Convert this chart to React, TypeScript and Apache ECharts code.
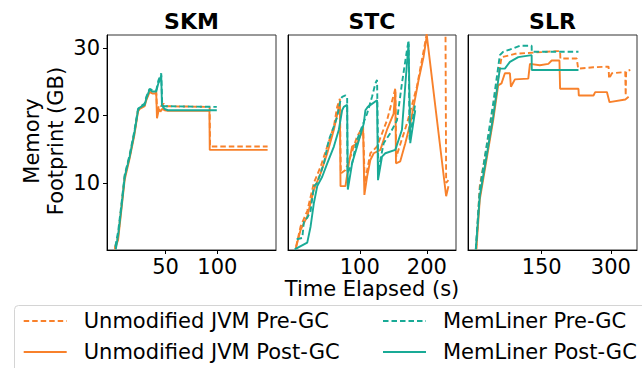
import React, { useEffect, useRef } from "react";
import * as echarts from "echarts";

// ---------- data ----------
const panelTitles = ["SKM", "STC", "SLR"];
const seriesNames = [
  "Unmodified JVM Pre-GC",
  "Unmodified JVM Post-GC",
  "MemLiner Pre-GC",
  "MemLiner Post-GC",
];
const xTickLabels = [
  [50, 100],
  [100, 200],
  [150, 300],
];
const yTickLabels = [10, 20, 30];

// SKM
const skmUnmodPre = [[1.0,0.3],[4.2,2.0],[7.4,6.5],[10.6,11.0],[15.4,14.0],[20,17.5],[23.4,20.8],[25,21.2],[29.8,21.6],[31.4,22.5],[34.6,23.8],[37.2,23.6],[41,23.6],[41.9,20.3],[43.6,21.6],[46,21.4],[48,21.8],[50,21.4],[92.5,21.3],[92.9,15.4],[148.4,15.4]];
const skmUnmodPost = [[1.0,0.1],[4.2,1.5],[7.4,6.0],[10.6,10.5],[15.4,13.7],[20,17.2],[23.4,20.6],[25,21.0],[29.8,21.4],[31.4,22.3],[34.6,23.5],[37.2,23.3],[41,23.3],[41.7,19.6],[43.6,21.0],[45,20.6],[46.8,21.0],[49,20.8],[52.2,20.7],[92.3,20.7],[92.6,14.9],[148.4,14.9]];
const skmMemPre = [[1.5,0.5],[4.3,2.8],[7.4,6.8],[10.6,11.2],[15.4,14.2],[20,17.8],[23.4,21.0],[25,21.3],[29.8,21.8],[31.4,22.8],[34.6,24.0],[37.2,23.8],[41,23.8],[43,25.2],[45.8,26.3],[46.8,21.5],[49,21.4],[99.4,21.3]];
const skmMemPost = [[2.0,0.1],[4.5,2.5],[7.5,6.5],[10.6,10.9],[15.4,13.9],[20,17.5],[23.4,20.8],[25,21.2],[29.8,21.6],[31.4,22.5],[34.6,23.9],[37.2,23.6],[41,23.6],[43,24.8],[44.5,25.3],[45.8,26.0],[46.5,21.5],[49,21.0],[52.2,20.8],[99.4,20.8]];

// STC
const stcUnmodPre = [[5,0.5],[11.8,3.5],[21.7,5.8],[31.6,10.0],[41.6,12.4],[51.5,15.4],[61.4,18.4],[66.3,21.3],[70.3,22.5],[71.8,11.4],[78.7,11.9],[86.1,13.9],[96.0,16.9],[105,18.4],[107.4,10.0],[115.8,14.4],[125.8,15.4],[140.6,19.3],[153.0,24.0],[154.5,13.9],[170.3,18.8],[185.2,24.3],[200.0,32.2],[215,33.5],[227.8,34],[228.8,10.0],[232.2,10.4]];
const stcUnmodPost = [[4.5,0.2],[11.8,3.0],[21.7,5.0],[31.6,9.0],[41.6,11.4],[51.5,14.4],[61.4,17.9],[68.8,21.3],[70.3,22.0],[71.3,9.5],[78.7,9.5],[83.7,12.9],[88.6,15.4],[96.0,15.9],[105,17.9],[106.9,8.2],[110.9,10.9],[115.8,13.4],[120.8,14.4],[130.7,14.9],[140.6,17.9],[150.5,20.3],[153.0,23.8],[154.0,12.9],[160.4,13.2],[167.9,15.9],[175.3,18.8],[180.2,21.3],[187.7,25.3],[195.1,28.7],[200.0,31.9],[228.8,8.0],[232.2,9.5]];
const stcMemPre = [[5.9,1.6],[14.3,1.8],[16.8,4.3],[21.7,4.8],[26.7,5.8],[31.6,9.5],[36.6,10.0],[46.5,12.9],[53.9,16.4],[61.4,18.4],[66.3,19.8],[71.3,22.3],[73.7,22.8],[78.7,23.0],[81.2,22.8],[81.7,11.4],[88.6,12.9],[96.0,16.4],[103.5,18.4],[110.9,20.3],[118.3,22.8],[123.3,24.8],[125.8,25.3],[127.7,11.9],[135.7,15.9],[145.6,17.4],[155.5,19.3],[162.9,24.8],[170.3,29.7],[172.8,31.2],[174.3,16.4],[182.7,21.8]];
const stcMemPost = [[2.9,0.1],[21.7,1.1],[26.7,3.5],[31.6,7.0],[36.6,9.5],[44.0,10.9],[51.5,12.9],[61.4,15.4],[68.8,17.9],[73.7,20.8],[76.2,21.3],[81.2,21.6],[82.2,9.0],[88.6,12.9],[96.0,15.4],[105.9,18.8],[108.4,20.8],[112,21.3],[125.8,22.3],[127.2,10.4],[133.2,13.9],[138.1,14.4],[153.0,14.9],[162.9,17.9],[170.3,27.7],[172.8,30.7],[175.3,15.9],[182.7,20.8]];

// SLR
const slrUnmodPre = [[8,0.1],[15.9,9.5],[44.9,20.8],[63,28.7],[81.2,29.0],[92,29.2],[182.6,29.6],[189.9,29.6],[190.5,28.5],[226,28.5],[229,27.0],[262,27.2],[294.9,27.3],[296,25.5],[302.2,26.3],[331,26.5],[332,23.0],[333,26.6],[342,26.8]];
const slrUnmodPost = [[8.5,0.1],[15.9,7.5],[44.9,19.3],[55.8,24.5],[63,24.8],[70.3,26.3],[81.2,26.3],[83.4,24.3],[92,25.4],[121,25.5],[124.6,27.7],[146,27.5],[164.5,27.7],[171.7,28.2],[188.5,28.2],[189.9,24.0],[229.7,24.0],[230.4,23.0],[262.3,23.0],[265.9,23.5],[291.3,23.5],[297,22.0],[331.2,22.4],[338.4,22.8]];
const slrMemPre = [[7.3,0.1],[15.9,9.0],[44.9,21.8],[59.4,29.0],[66.7,29.5],[88.4,30.0],[102.9,30.4],[128.3,30.4],[128.5,29.5],[229.7,29.5]];
const slrMemPost = [[7.3,0.1],[15.9,8.0],[44.9,19.8],[59.4,27.0],[70.3,27.0],[81.2,28.0],[99.3,28.7],[128.3,29.0],[128.5,26.8],[229.7,26.8]];

const panelData = [
  [skmUnmodPre, skmUnmodPost, skmMemPre, skmMemPost],
  [stcUnmodPre, stcUnmodPost, stcMemPre, stcMemPost],
  [slrUnmodPre, slrUnmodPost, slrMemPre, slrMemPost],
];

// ---------- layout / style ----------
const FONT = "DejaVu Sans";
const ORANGE = "#f8812b";
const TEAL = "#19aa96";
const seriesColors = [ORANGE, ORANGE, TEAL, TEAL];
const seriesDashed = [true, false, true, false];
const grids = [
  { left: 107, top: 35, width: 169, height: 215 },
  { left: 288, top: 35, width: 168, height: 215 },
  { left: 468, top: 35, width: 169, height: 215 },
];
const xRanges = [
  [-6.5, 156.5],
  [-7, 243.5],
  [-9.6, 356.5],
];

export default function App() {
  const ref = useRef<HTMLDivElement>(null);
  useEffect(() => {
    if (!ref.current) return;
    const chart = echarts.init(ref.current, null, { renderer: "svg" });

    const series: any[] = [];
    panelData.forEach((arr, p) => {
      arr.forEach((data, s) => {
        series.push({
          type: "line",
          name: seriesNames[s],
          xAxisIndex: p,
          yAxisIndex: p,
          data,
          symbol: "none",
          showSymbol: false,
          clip: true,
          z: 2 + s,
          itemStyle: { color: seriesColors[s] },
          lineStyle: {
            color: seriesColors[s],
            width: 1.9,
            type: seriesDashed[s] ? [5.5, 3] : "solid",
          },
        });
      });
    });

    const legendCommon = {
      orient: "vertical",
      top: 309,
      padding: 0,
      itemWidth: 43,
      itemHeight: 14,
      itemGap: 7,
      selectedMode: false,
      itemStyle: { opacity: 0 },
      textStyle: {
        fontFamily: FONT,
        fontSize: 21,
        color: "#000",
        lineHeight: 24,
        padding: [0, 0, 0, 12],
      },
    };

    chart.setOption({
      animation: false,
      backgroundColor: "#fff",
      grid: grids.map((g) => ({
        ...g,
        show: true,
        borderColor: "#333",
        borderWidth: 1,
        containLabel: false,
      })),
      xAxis: grids.map((_, p) => ({
        gridIndex: p,
        type: "value",
        min: xRanges[p][0],
        max: xRanges[p][1],
        axisLine: { show: true, onZero: false, lineStyle: { color: "#000", width: 1 } },
        axisTick: { show: true, length: 4, customValues: xTickLabels[p], lineStyle: { color: "#000" } },
        axisLabel: {
          customValues: xTickLabels[p],
          fontFamily: FONT,
          fontSize: 21,
          color: "#000",
          margin: 6,
        },
        splitLine: { show: false },
      })),
      yAxis: grids.map((_, p) => ({
        gridIndex: p,
        type: "value",
        min: 0,
        max: 32,
        axisLine: { show: true, onZero: false, lineStyle: { color: "#000", width: 1 } },
        axisTick: p === 0
          ? { show: true, length: 4, customValues: yTickLabels, lineStyle: { color: "#000" } }
          : { show: false },
        axisLabel: p === 0
          ? { show: true, customValues: yTickLabels, fontFamily: FONT, fontSize: 21, color: "#000", margin: 7 }
          : { show: false },
        splitLine: { show: false },
      })),
      legend: [
        { ...legendCommon, left: 22.7, data: [seriesNames[0], seriesNames[1]] },
        { ...legendCommon, left: 382, data: [seriesNames[2], seriesNames[3]] },
      ],
      graphic: [
        ...grids.map((g, p) => ({
          type: "text",
          x: g.left + g.width / 2,
          y: 21,
          style: {
            text: panelTitles[p],
            fontFamily: FONT,
            fontWeight: "bold",
            fontSize: 22,
            fill: "#000",
            textAlign: "center",
            textVerticalAlign: "middle",
          },
        })),
        {
          type: "text",
          x: 44,
          y: 141,
          rotation: Math.PI / 2,
          style: {
            text: "Memory\nFootprint (GB)",
            fontFamily: FONT,
            fontSize: 21,
            lineHeight: 24,
            fill: "#000",
            textAlign: "center",
            textVerticalAlign: "middle",
          },
        },
        {
          type: "text",
          x: 372,
          y: 289,
          style: {
            text: "Time Elapsed (s)",
            fontFamily: FONT,
            fontSize: 21,
            fill: "#000",
            textAlign: "center",
            textVerticalAlign: "middle",
          },
        },
        {
          type: "rect",
          z: -1,
          shape: { x: 14.5, y: 305.5, width: 660, height: 80, r: 4 },
          style: { fill: "none", stroke: "#d4d4d4", lineWidth: 1 },
        },
      ],
      series,
    });

    return () => chart.dispose();
  }, []);

  return (
    <div
      ref={ref}
      style={{ position: "absolute", left: 0, top: 0, width: 642, height: 368 }}
    />
  );
}
